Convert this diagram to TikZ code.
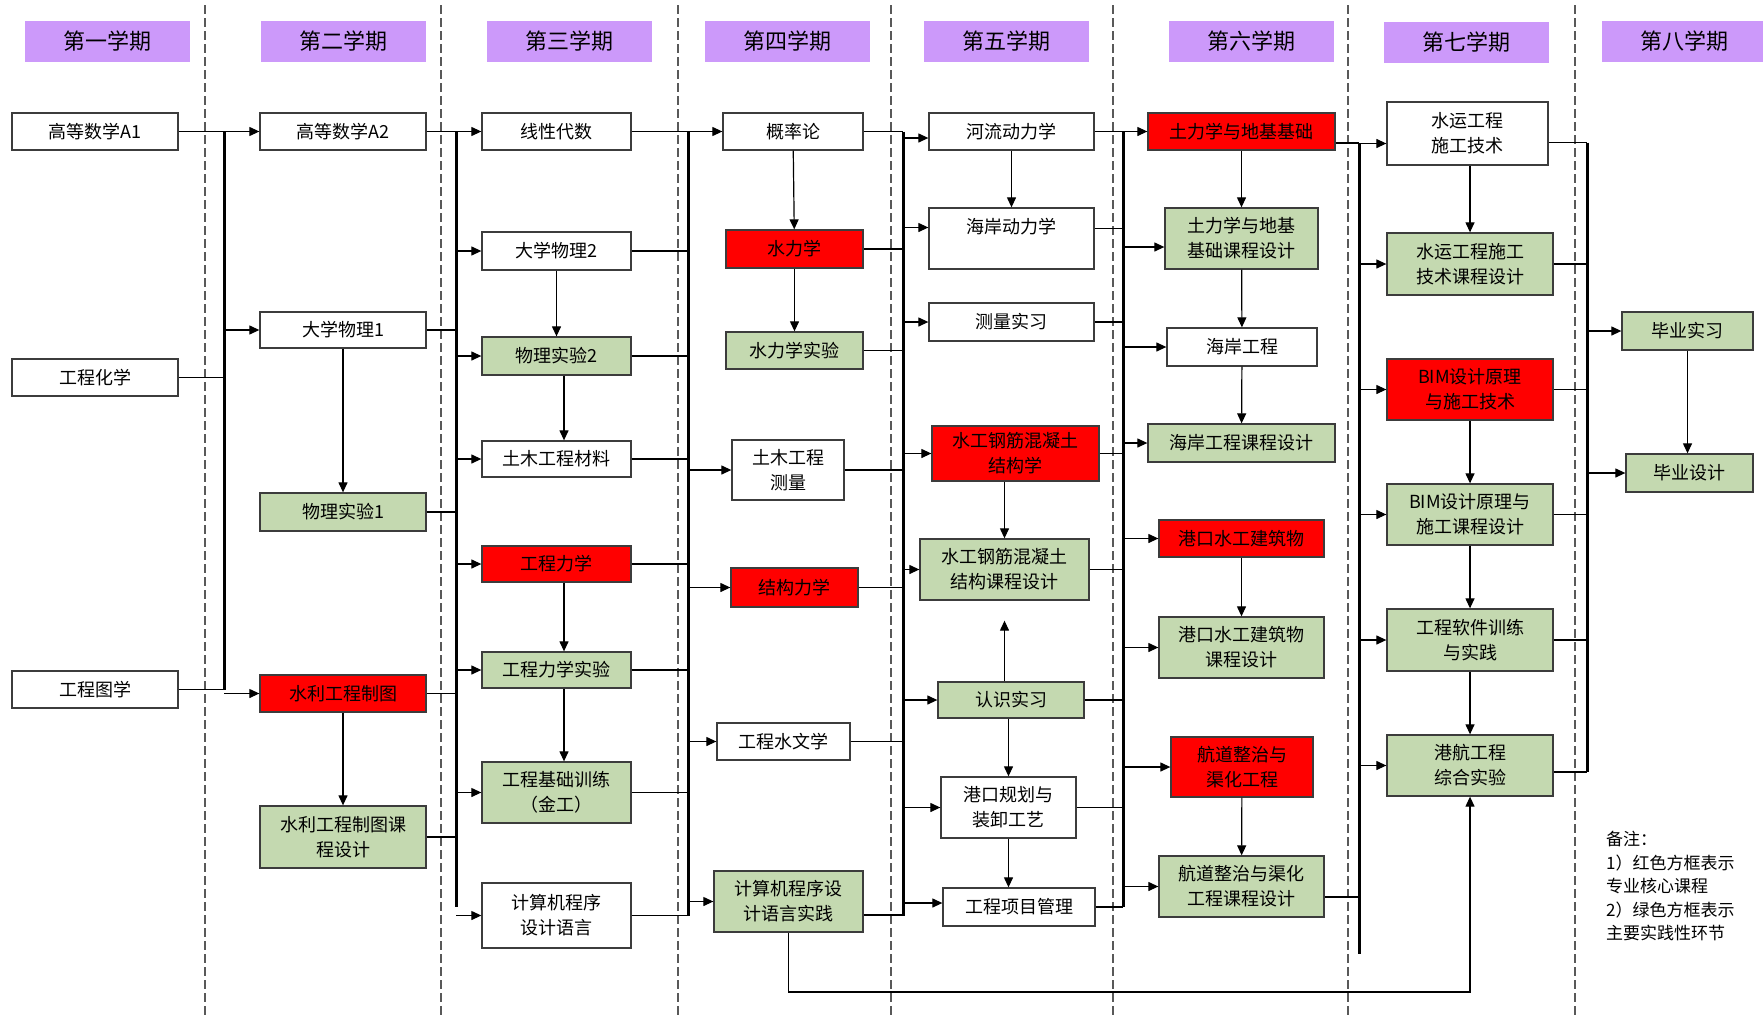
\documentclass[tikz,border=0pt]{standalone}
\usepackage{fontspec}
\setmainfont{Noto Sans CJK SC}
\usetikzlibrary{arrows.meta}
\definecolor{termpurple}{RGB}{204,153,250}
\definecolor{pracgreen}{RGB}{196,217,176}
\definecolor{framegray}{RGB}{60,60,60}
\tikzset{
  kc/.style={draw=framegray,line width=1.3pt,fill=white,inner sep=0pt,align=center,font=\fontsize{18pt}{25pt}\selectfont},
  core/.style={kc,fill=red},
  prac/.style={kc,fill=pracgreen},
  sz/.style 2 args={minimum width=#1pt,minimum height=#2pt},
  term/.style={fill=termpurple,inner sep=0pt,minimum width=165pt,minimum height=41pt,font=\fontsize{22pt}{26pt}\selectfont},
  arr/.style={line width=1.2pt,-{Triangle[length=10pt,width=9pt]}},
  lnk/.style={line width=1.2pt},
  bus/.style={line width=3pt},
  sep/.style={black!65,line width=1.3pt,dash pattern=on 9pt off 4pt},
}
\begin{document}
\begin{tikzpicture}[x=1pt,y=-1pt]
    \useasboundingbox (0,0) rectangle (1763,1017);
    % semester borders
    \draw[sep] (205,5)--(205,1017);
    \draw[sep] (441,5)--(441,1017);
    \draw[sep] (678,5)--(678,1017);
    \draw[sep] (891,5)--(891,1017);
    \draw[sep] (1113,5)--(1113,1017);
    \draw[sep] (1348,5)--(1348,1017);
    \draw[sep] (1575,5)--(1575,1017);
    % headers
    \node[term] (t1) at (107.5,41.5) {第一学期};
    \node[term] (t2) at (343.5,41.5) {第二学期};
    \node[term] (t3) at (569.5,41.5) {第三学期};
    \node[term] (t4) at (787.5,41.5) {第四学期};
    \node[term] (t5) at (1006.5,41.5) {第五学期};
    \node[term] (t6) at (1251.5,41.5) {第六学期};
    \node[term] (t7) at (1466,42.5) {第七学期};
    \node[term] (t8) at (1684.5,41.5) {第八学期};
    % semester 1
    \node[kc,sz={166}{37}] (a1) at (95,131.5) {高等数学A1};
    \node[kc,sz={166}{37}] (hx) at (95,377.5) {工程化学};
    \node[kc,sz={166}{37}] (tx) at (95,689.5) {工程图学};
    % semester 2
    \node[kc,sz={166}{37}] (a2) at (343,131.5) {高等数学A2};
    \node[kc,sz={166}{36}] (wl1) at (343,330) {大学物理1};
    \node[prac,sz={166}{38}] (sy1) at (343,512) {物理实验1};
    \node[core,sz={166}{37}] (zt) at (343,693.5) {水利工程制图};
    \node[prac,sz={166}{62}] (ztk) at (343,837) {水利工程制图课\\程设计};
    % semester 3
    \node[kc,sz={149}{37}] (xd) at (556.5,131.5) {线性代数};
    \node[kc,sz={149}{38}] (wl2) at (556.5,251) {大学物理2};
    \node[prac,sz={149}{38}] (sy2) at (556.5,356) {物理实验2};
    \node[kc,sz={149}{36}] (cl) at (556.5,459) {土木工程材料};
    \node[core,sz={149}{36}] (lx) at (556.5,564) {工程力学};
    \node[prac,sz={149}{36}] (lxsy) at (556.5,670) {工程力学实验};
    \node[prac,sz={149}{61}] (jg) at (556.5,792.5) {工程基础训练\\（金工）};
    \node[kc,sz={149}{65}] (jsj) at (556.5,915.5) {计算机程序\\设计语言};
    % semester 4
    \node[kc,sz={140}{37}] (gl) at (793,131.5) {概率论};
    \node[core,sz={137}{38}] (sl) at (794.5,249) {水力学};
    \node[prac,sz={137}{37}] (slsy) at (794.5,350.5) {水力学实验};
    \node[kc,sz={112}{60}] (cs) at (788,470) {土木工程\\测量};
    \node[core,sz={127}{39}] (jl) at (794.5,587.5) {结构力学};
    \node[kc,sz={133}{37}] (sw) at (783.5,741.5) {工程水文学};
    \node[prac,sz={149}{61}] (jsjsj) at (788.5,901.5) {计算机程序设\\计语言实践};
    % semester 5
    \node[kc,sz={165}{37}] (hl) at (1011.5,131.5) {河流动力学};
    \node[kc,sz={165}{61}] (ha) at (1011.5,238.5) {海岸动力学\\\mbox{}};
    \node[kc,sz={165}{38}] (clsx) at (1011.5,322) {测量实习};
    \node[core,sz={167}{55}] (gj) at (1015.5,453.5) {水工钢筋混凝土\\结构学};
    \node[prac,sz={169}{61}] (gjk) at (1004.5,569.5) {水工钢筋混凝土\\结构课程设计};
    \node[prac,sz={146}{36}] (rs) at (1011,700) {认识实习};
    \node[kc,sz={135}{61}] (gk) at (1008.5,807.5) {港口规划与\\装卸工艺};
    \node[kc,sz={152}{38}] (xm) at (1019,907) {工程项目管理};
    % semester 6
    \node[core,sz={187}{37}] (tl) at (1241.5,131.5) {土力学与地基基础};
    \node[prac,sz={153}{61}] (tlk) at (1241.5,238.5) {土力学与地基\\基础课程设计};
    \node[kc,sz={150}{38}] (ha2) at (1242,347) {海岸工程};
    \node[prac,sz={187}{38}] (hak) at (1241.5,443) {海岸工程课程设计};
    \node[core,sz={165}{37}] (gs) at (1241.5,538.5) {港口水工建筑物};
    \node[prac,sz={165}{61}] (gsk) at (1241.5,647.5) {港口水工建筑物\\课程设计};
    \node[core,sz={142}{60}] (hd) at (1242,767) {航道整治与\\渠化工程};
    \node[prac,sz={165}{61}] (hdk) at (1241.5,886.5) {航道整治与渠化\\工程课程设计};
    % semester 7
    \node[kc,sz={161}{63}] (sy) at (1467.5,133.5) {水运工程\\施工技术};
    \node[prac,sz={166}{62}] (syk) at (1470,264) {水运工程施工\\技术课程设计};
    \node[core,sz={166}{61}] (bim) at (1470,389.5) {BIM设计原理\\与施工技术};
    \node[prac,sz={166}{61}] (bimk) at (1470,514.5) {BIM设计原理与\\施工课程设计};
    \node[prac,sz={166}{62}] (rj) at (1470,640) {工程软件训练\\与实践};
    \node[prac,sz={166}{61}] (zh) at (1470,765.5) {港航工程\\综合实验};
    % semester 8
    \node[prac,sz={131}{38}] (bs) at (1687.5,331) {毕业实习};
    \node[prac,sz={127}{38}] (bsj) at (1689.5,473) {毕业设计};
    \node[anchor=north west,align=left,inner sep=0pt,font=\fontsize{17pt}{23.5pt}\selectfont] (bz) at (1606,831) {备注：\\1）红色方框表示\\专业核心课程\\2）绿色方框表示\\主要实践性环节};
    % buses
    \coordinate (b1) at (224,131.5);   \coordinate (b1e) at (224,690);
    \coordinate (b2) at (456,131.5);   \coordinate (b2e) at (456,907);
    \coordinate (b3) at (688,131.5);   \coordinate (b3e) at (688,916);
    \coordinate (b4) at (903,131.5);   \coordinate (b4e) at (903,916);
    \coordinate (b5) at (1123,131.5);  \coordinate (b5e) at (1123,907);
    \coordinate (b6) at (1359,143);    \coordinate (b6e) at (1359,954);
    \coordinate (b7) at (1587,142.5);  \coordinate (b7e) at (1587,772);
    \coordinate (low) at (0,992);
    \draw[bus] (b1)--(b1e);
    \draw[bus] (b2)--(b2e);
    \draw[bus] (b3)--(b3e);
    \draw[bus] (b4)--(b4e);
    \draw[bus] (b5)--(b5e);
    \draw[bus] (b6)--(b6e);
    \draw[bus] (b7)--(b7e);
    % 1 -> 2
    \draw[lnk] (a1.east)--(a1.east -| b1);
    \draw[lnk] (hx.east)--(hx.east -| b1);
    \draw[lnk] (tx.east)--(tx.east -| b1);
    \draw[arr] (a2.west -| b1)--(a2.west);
    \draw[arr] (wl1.west -| b1)--(wl1.west);
    \draw[arr] (zt.west -| b1)--(zt.west);
    \draw[arr] (wl1)--(sy1);
    \draw[arr] (zt)--(ztk);
    % 2 -> 3
    \draw[lnk] (a2.east)--(a2.east -| b2);
    \draw[lnk] (wl1.east)--(wl1.east -| b2);
    \draw[lnk] (sy1.east)--(sy1.east -| b2);
    \draw[lnk] (zt.east)--(zt.east -| b2);
    \draw[lnk] (ztk.east)--(ztk.east -| b2);
    \draw[arr] (xd.west -| b2)--(xd.west);
    \draw[arr] (wl2.west -| b2)--(wl2.west);
    \draw[arr] (sy2.west -| b2)--(sy2.west);
    \draw[arr] (cl.west -| b2)--(cl.west);
    \draw[arr] (lx.west -| b2)--(lx.west);
    \draw[arr] (lxsy.west -| b2)--(lxsy.west);
    \draw[arr] (jg.west -| b2)--(jg.west);
    \draw[arr] (jsj.west -| b2)--(jsj.west);
    \draw[arr] (wl2)--(sy2);
    \draw[arr] ([xshift=7.5pt]sy2.south)--([xshift=7.5pt]cl.north);
    \draw[arr] ([xshift=7.5pt]lx.south)--([xshift=7.5pt]lxsy.north);
    \draw[arr] ([xshift=7.5pt]lxsy.south)--([xshift=7.5pt]jg.north);
    % 3 -> 4
    \draw[lnk] (xd.east)--(xd.east -| b3);
    \draw[lnk] (wl2.east)--(wl2.east -| b3);
    \draw[lnk] (sy2.east)--(sy2.east -| b3);
    \draw[lnk] (cl.east)--(cl.east -| b3);
    \draw[lnk] (lx.east)--(lx.east -| b3);
    \draw[lnk] (lxsy.east)--(lxsy.east -| b3);
    \draw[lnk] (jg.east)--(jg.east -| b3);
    \draw[lnk] (jsj.east)--(jsj.east -| b3);
    \draw[arr] (gl.west -| b3)--(gl.west);
    \draw[arr] (cs.west -| b3)--(cs.west);
    \draw[arr] (jl.west -| b3)--(jl.west);
    \draw[arr] (sw.west -| b3)--(sw.west);
    \draw[arr] (jsjsj.west -| b3)--(jsjsj.west);
    \draw[arr] (gl)--(sl);
    \draw[arr] (sl)--(slsy);
    \draw[arr] (jsjsj.south)--(jsjsj.south |- low)-|(zh.south);
    % 4 -> 5
    \draw[lnk] (gl.east)--(gl.east -| b4);
    \draw[lnk] (sl.east)--(sl.east -| b4);
    \draw[lnk] (slsy.east)--(slsy.east -| b4);
    \draw[lnk] (cs.east)--(cs.east -| b4);
    \draw[lnk] (jl.east)--(jl.east -| b4);
    \draw[lnk] (sw.east)--(sw.east -| b4);
    \draw[lnk] ([yshift=-13.5pt]jsjsj.east)--([yshift=-13.5pt]jsjsj.east -| b4);
    \draw[arr] ([yshift=-6.5pt]hl.west -| b4)--([yshift=-6.5pt]hl.west);
    \draw[arr] ([yshift=11pt]ha.west -| b4)--([yshift=11pt]ha.west);
    \draw[arr] (clsx.west -| b4)--(clsx.west);
    \draw[arr] (gj.west -| b4)--(gj.west);
    \draw[arr] (gjk.west -| b4)--(gjk.west);
    \draw[arr] (rs.west -| b4)--(rs.west);
    \draw[arr] (gk.west -| b4)--(gk.west);
    \draw[arr] ([yshift=4pt]xm.west -| b4)--([yshift=4pt]xm.west);
    \draw[arr] (hl)--(hl |- ha.north);
    \draw[arr] (gj.south -| gjk)--(gjk);
    \draw[arr,shorten >=20pt] (rs.north -| gjk)--(gjk);
    \draw[arr] (rs.south -| gk)--(gk);
    \draw[arr] (gk)--(gk |- xm.north);
    % 5 -> 6
    \draw[lnk] (hl.east)--(hl.east -| b5);
    \draw[lnk] ([yshift=10pt]ha.east)--([yshift=10pt]ha.east -| b5);
    \draw[lnk] (clsx.east)--(clsx.east -| b5);
    \draw[lnk] (gj.east)--(gj.east -| b5);
    \draw[lnk] (gjk.east)--(gjk.east -| b5);
    \draw[lnk] (rs.east)--(rs.east -| b5);
    \draw[lnk] (gk.east)--(gk.east -| b5);
    \draw[lnk] (xm.east)--(xm.east -| b5);
    \draw[arr] (tl.west -| b5)--(tl.west);
    \draw[arr] ([yshift=-8.5pt]tlk.west -| b5)--([yshift=-8.5pt]tlk.west);
    \draw[arr] (ha2.west -| b5)--(ha2.west);
    \draw[arr] (hak.west -| b5)--(hak.west);
    \draw[arr] (gs.west -| b5)--(gs.west);
    \draw[arr] (gsk.west -| b5)--(gsk.west);
    \draw[arr] (hd.west -| b5)--(hd.west);
    \draw[arr] (hdk.west -| b5)--(hdk.west);
    \draw[arr] (tl)--(tlk);
    \draw[arr] (tlk)--(ha2);
    \draw[arr] (ha2)--(hak);
    \draw[arr] (gs)--(gsk);
    \draw[arr] (hd)--(hdk);
    % 6 -> 7
    \draw[lnk] ([yshift=-11.5pt]tl.east)--(b6);
    \draw[lnk] ([yshift=-10.5pt]hdk.east)--([yshift=-10.5pt]hdk.east -| b6);
    \draw[arr] ([yshift=-10pt]sy.west -| b6)--([yshift=-10pt]sy.west);
    \draw[arr] (syk.west -| b6)--(syk.west);
    \draw[arr] (bim.west -| b6)--(bim.west);
    \draw[arr] (bimk.west -| b6)--(bimk.west);
    \draw[arr] (rj.west -| b6)--(rj.west);
    \draw[arr] (zh.west -| b6)--(zh.west);
    \draw[arr] (sy.south -| syk)--(syk);
    \draw[arr] (bim)--(bimk);
    \draw[arr] (bimk)--(rj);
    \draw[arr] (rj)--(zh);
    % 7 -> 8
    \draw[lnk] ([yshift=-9pt]sy.east)--(b7);
    \draw[lnk] (syk.east)--(syk.east -| b7);
    \draw[lnk] (bim.east)--(bim.east -| b7);
    \draw[lnk] (bimk.east)--(bimk.east -| b7);
    \draw[lnk] (rj.east)--(rj.east -| b7);
    \draw[lnk] ([yshift=-6.5pt]zh.east)--(b7e);
    \draw[arr] (bs.west -| b7)--(bs.west);
    \draw[arr] (bsj.west -| b7)--(bsj.west);
    \draw[arr] (bs.south -| bs)--(bsj.north -| bs);
\end{tikzpicture}
\end{document}
